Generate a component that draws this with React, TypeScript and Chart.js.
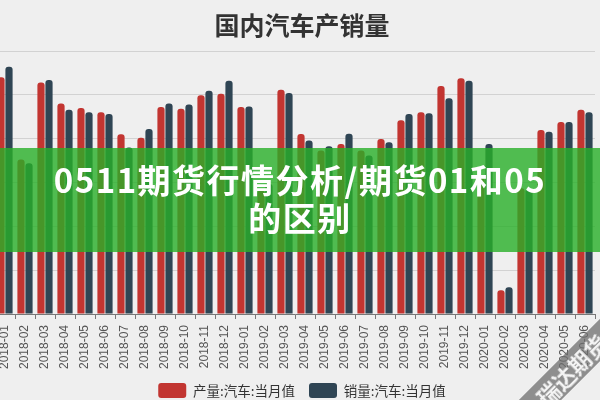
import { useEffect, useRef } from 'react';
import { Chart, registerables } from 'chart.js';

Chart.register(...registerables);

const months = [
  '2018-01', '2018-02', '2018-03', '2018-04', '2018-05', '2018-06',
  '2018-07', '2018-08', '2018-09', '2018-10', '2018-11', '2018-12',
  '2019-01', '2019-02', '2019-03', '2019-04', '2019-05', '2019-06',
  '2019-07', '2019-08', '2019-09', '2019-10', '2019-11', '2019-12',
  '2020-01', '2020-02', '2020-03', '2020-04', '2020-05', '2020-06',
];

const production = [
  270, 176.3, 264, 240, 235, 230,
  205, 201, 236, 234, 249.5, 251.3,
  236.0, 140.8, 255.8, 205.2, 186.4, 194.0,
  186.6, 199.6, 221, 230, 260, 269,
  155.4, 27, 143.3, 210, 219, 233,
];

const sales = [
  282, 172, 267, 233, 230, 228,
  190, 211, 240, 239, 254.8, 266.1,
  236.7, 148.2, 252.0, 198.0, 191.3, 205.6,
  180.8, 195.8, 228, 229, 246, 266,
  194, 30.4, 143.0, 208, 219, 230,
];

const seriesNames = ['产量:汽车:当月值', '销量:汽车:当月值'];
const titleText = '国内汽车产销量';
const bannerLines = ['0511期货行情分析/期货01和05', '的区别'];
const watermarkText = '瑞达期货';
const yMin = 0;
const yMax = 300;
const yStep = 50;

export default function App() {
  const ref = useRef<HTMLCanvasElement | null>(null);

  useEffect(() => {
    if (!ref.current) return;
    const chart = new Chart(ref.current, {
      type: 'bar',
      data: {
        labels: months,
        datasets: [
          {
            label: seriesNames[0],
            data: production,
            backgroundColor: '#c23531',
            borderWidth: 0,
            borderRadius: 3,
            categoryPercentage: 0.8,
            barPercentage: 0.9,
          },
          {
            label: seriesNames[1],
            data: sales,
            backgroundColor: '#2f4554',
            borderWidth: 0,
            borderRadius: 3,
            categoryPercentage: 0.8,
            barPercentage: 0.9,
          },
        ],
      },
      options: {
        responsive: false,
        animation: false,
        devicePixelRatio: 1,
        layout: { padding: 0 },
        plugins: {
          title: {
            display: true,
            text: titleText,
            color: '#333333',
            font: { size: 25, weight: 'bold', family: '"Noto Sans CJK SC"' },
            padding: { top: 10, bottom: 11 },
          },
          legend: {
            position: 'bottom',
            labels: {
              boxWidth: 28,
              boxHeight: 15,
              padding: 14,
              color: '#333333',
              useBorderRadius: true,
              borderRadius: 3,
              font: { size: 13.5, family: '"Noto Sans CJK SC"' },
            },
          },
          tooltip: { enabled: false },
        },
        scales: {
          x: {
            offset: true,
            grid: {
              display: true,
              drawOnChartArea: false,
              drawTicks: true,
              tickLength: 5,
              color: '#777777',
              offset: true,
            },
            border: { display: true, color: '#777777' },
            ticks: {
              autoSkip: false,
              maxRotation: 90,
              minRotation: 90,
              padding: 6,
              color: '#555555',
              font: { size: 12, family: '"Liberation Sans"' },
            },
            afterFit: (s: any) => {
              s.height = 55;
              s.paddingLeft = 0;
              s.paddingRight = 0;
            },
          },
          y: {
            min: yMin,
            max: yMax,
            position: 'left',
            grid: { color: '#d2d2d2', drawTicks: false },
            border: { display: false },
            ticks: { display: false, stepSize: yStep },
            afterFit: (s: any) => {
              s.width = 0;
            },
          },
          y2: {
            type: 'linear',
            position: 'right',
            grid: { display: false },
            border: { display: false },
            ticks: { display: false },
            afterFit: (s: any) => {
              s.width = 14;
            },
          },
        },
      },
    });
    return () => chart.destroy();
  }, []);

  return (
    <div
      style={{
        position: 'fixed',
        left: 0,
        top: 0,
        width: 600,
        height: 400,
        overflow: 'hidden',
        background: '#efefef',
      }}
    >
      <canvas
        ref={ref}
        width={614}
        height={408}
        style={{ position: 'absolute', left: -5, top: 0, width: 614, height: 408 }}
      />
      <div
        style={{
          position: 'absolute',
          left: 0,
          top: 148,
          width: 600,
          height: 104,
          background: 'rgba(40,175,40,0.8)',
          color: '#ffffff',
          fontFamily: '"Noto Sans CJK SC", sans-serif',
          fontWeight: 'bold',
          fontSize: 33,
          lineHeight: '38px',
          letterSpacing: 1.5,
          textAlign: 'center',
          paddingTop: 12,
          boxSizing: 'border-box',
        }}
      >
        {bannerLines.map((l, i) => (
          <div key={i}>{l}</div>
        ))}
      </div>
      <div
        style={{
          position: 'absolute',
          left: 495,
          top: 345,
          width: 170,
          height: 30,
          background: 'rgba(110,110,110,0.75)',
          color: 'rgba(255,255,255,0.9)',
          fontFamily: '"Noto Sans CJK SC", sans-serif',
          fontWeight: 'bold',
          fontSize: 22,
          lineHeight: '30px',
          textAlign: 'left',
          paddingLeft: 28,
          boxSizing: 'border-box',
          transform: 'rotate(-45deg)',
          transformOrigin: 'center center',
        }}
      >
        {watermarkText}
      </div>
    </div>
  );
}
